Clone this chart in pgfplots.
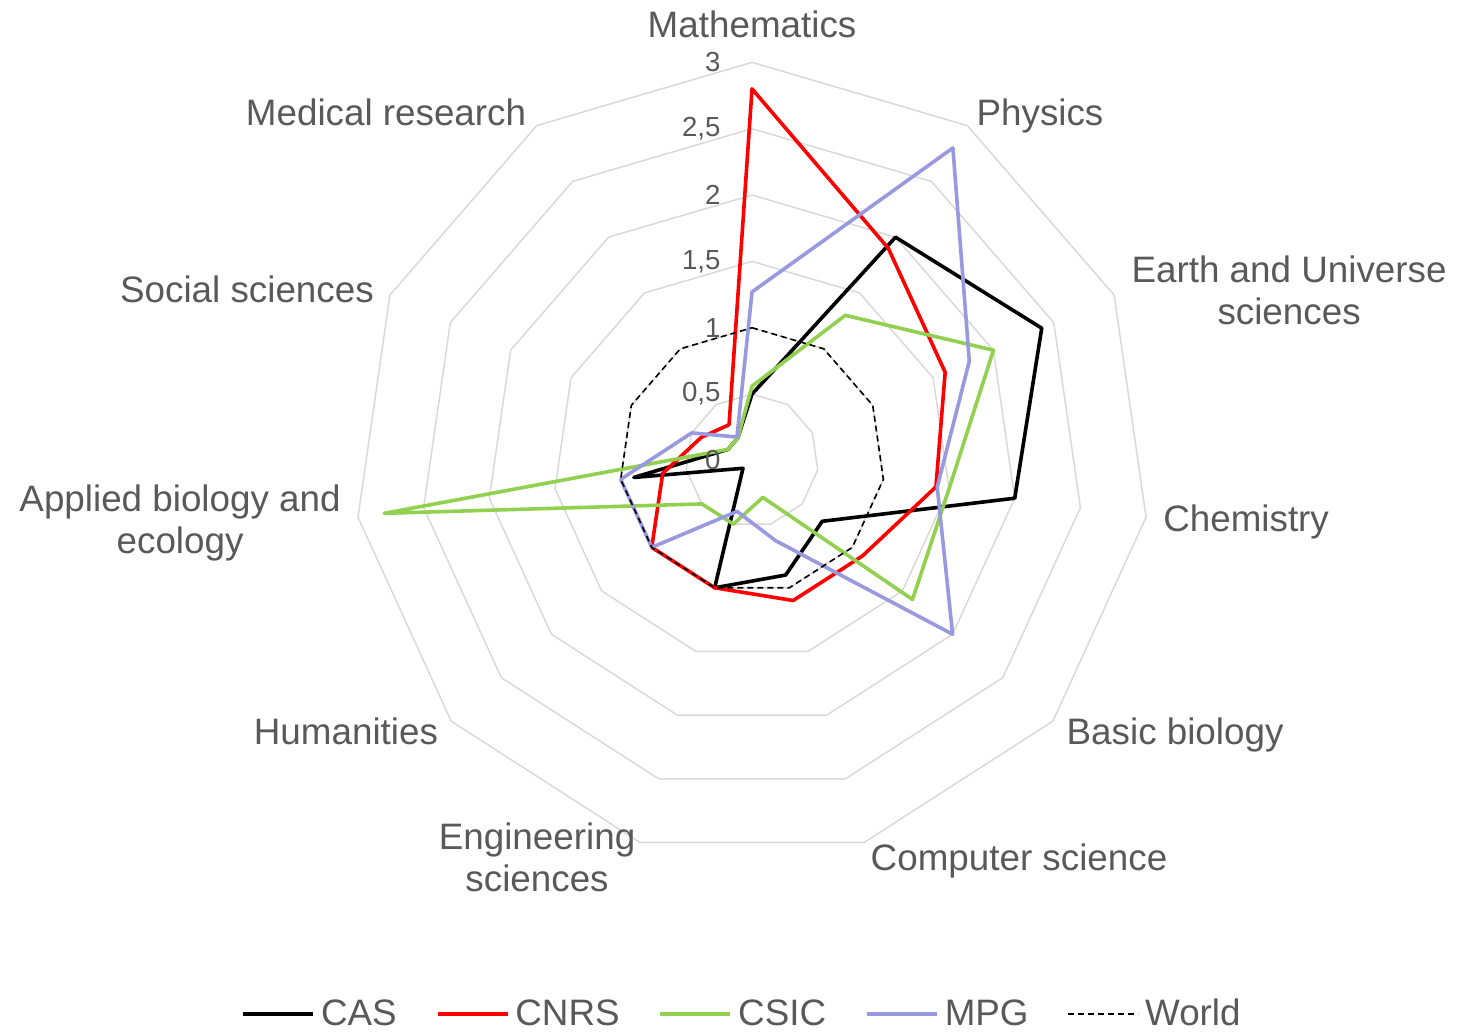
\documentclass[border=0pt]{standalone}
\usepackage{fontspec}
\setmainfont{Liberation Sans}
\usepackage{pgfplots}
\usepackage{pgfplotstable}
\pgfplotsset{compat=1.18}
\definecolor{txt}{HTML}{595959}
\definecolor{gridc}{HTML}{D9D9D9}
\definecolor{csic}{HTML}{92D050}
\definecolor{mpg}{RGB}{153,153,224}
% k: category index clockwise from top (Mathematics = 0)
\pgfplotstableread{
k CAS CNRS CSIC MPG World
0 0.50 2.80 0.56 1.27 1
1 2.00 1.90 1.30 2.80 1
2 2.40 1.60 2.00 1.80 1
3 2.00 1.40 1.50 1.41 1
4 0.70 1.10 1.60 2.00 1
5 0.90 1.10 0.29 0.63 1
6 1.00 1.00 0.50 0.40 1
7 0.09 1.00 0.50 1.00 1
8 0.90 0.68 2.80 1.00 1
9 0.20 0.42 0.20 0.50 1
10 0.20 0.32 0.20 0.21 1
}\data
\newcommand{\lab}{\fontsize{18.4}{21}\selectfont}
\newcommand{\tck}{\fontsize{13.8}{15}\selectfont}
\begin{document}
\begin{tikzpicture}
\begin{axis}[
  x=66.35pt, y=66.35pt,
  xmin=-5.667, xmax=5.320, ymin=-4.307, ymax=3.470,
  hide axis, clip=false,
  legend columns=5,
  legend style={draw=none, fill=none, at={(axis cs:-0.06,-4.170)}, anchor=center,
    font=\lab, text=txt, inner sep=0pt,
    nodes={inner sep=3pt},
    /tikz/every even column/.append style={column sep=16.5pt}},
  legend image code/.code={\draw[#1] (0pt,0pt) -- (35pt,0pt);},
  every axis plot/.append style={line join=round},
]
\pgfplotsinvokeforeach{0.5,1,1.5,2,2.5,3}{
  \addplot[gridc, line width=0.75pt, forget plot] table[
    x expr={#1*sin(\thisrow{k}*360/11)},
    y expr={#1*cos(\thisrow{k}*360/11)}] {\data} -- cycle;
}
\addplot[black, line width=1.8pt] table[
  x expr={\thisrow{CAS}*sin(\thisrow{k}*360/11)},
  y expr={\thisrow{CAS}*cos(\thisrow{k}*360/11)}] {\data} -- cycle;
\addlegendentry{CAS}
\addplot[red, line width=1.8pt] table[
  x expr={\thisrow{CNRS}*sin(\thisrow{k}*360/11)},
  y expr={\thisrow{CNRS}*cos(\thisrow{k}*360/11)}] {\data} -- cycle;
\addlegendentry{CNRS}
\addplot[csic, line width=1.8pt] table[
  x expr={\thisrow{CSIC}*sin(\thisrow{k}*360/11)},
  y expr={\thisrow{CSIC}*cos(\thisrow{k}*360/11)}] {\data} -- cycle;
\addlegendentry{CSIC}
\addplot[mpg, line width=1.8pt] table[
  x expr={\thisrow{MPG}*sin(\thisrow{k}*360/11)},
  y expr={\thisrow{MPG}*cos(\thisrow{k}*360/11)}] {\data} -- cycle;
\addlegendentry{MPG}
\addplot[black, line width=0.8pt, dash pattern=on 3pt off 2pt] table[
  x expr={\thisrow{World}*sin(\thisrow{k}*360/11)},
  y expr={\thisrow{World}*cos(\thisrow{k}*360/11)}] {\data} -- cycle;
\addlegendentry{World}
% radial tick labels
\node[anchor=east, inner sep=0pt, text=txt, font=\tck] at (axis cs:-0.235,0) {0};
\node[anchor=east, inner sep=0pt, text=txt, font=\tck] at (axis cs:-0.235,0.5) {0,5};
\node[anchor=east, inner sep=0pt, text=txt, font=\tck] at (axis cs:-0.235,1) {1};
\node[anchor=east, inner sep=0pt, text=txt, font=\tck] at (axis cs:-0.235,1.5) {1,5};
\node[anchor=east, inner sep=0pt, text=txt, font=\tck] at (axis cs:-0.235,2) {2};
\node[anchor=east, inner sep=0pt, text=txt, font=\tck] at (axis cs:-0.235,2.5) {2,5};
\node[anchor=east, inner sep=0pt, text=txt, font=\tck] at (axis cs:-0.235,3) {3};
% category labels
\tikzset{cat/.style={inner sep=0pt, text=txt, font=\lab, align=center}}
\node[cat] at (axis cs:0,3.289) {Mathematics};
\node[cat] at (axis cs:2.170,2.596) {Physics};
\node[cat] at (axis cs:4.047,1.285) {Earth and Universe\\sciences};
\node[cat] at (axis cs:3.723,-0.464) {Chemistry};
\node[cat] at (axis cs:3.188,-2.069) {Basic biology};
\node[cat] at (axis cs:2.012,-3.018) {Computer science};
\node[cat] at (axis cs:-1.620,-2.990) {Engineering\\sciences};
\node[cat] at (axis cs:-3.060,-2.040) {Humanities};
\node[cat] at (axis cs:-4.310,-0.472) {Applied biology and\\ecology};
\node[cat] at (axis cs:-3.806,1.292) {Social sciences};
\node[cat] at (axis cs:-2.758,2.626) {Medical research};
\coordinate (bl) at (rel axis cs:0,0);
\coordinate (tr) at (rel axis cs:1,1);
\end{axis}
\pgfresetboundingbox
\path[use as bounding box] (bl) rectangle (tr);
\end{tikzpicture}
\end{document}
